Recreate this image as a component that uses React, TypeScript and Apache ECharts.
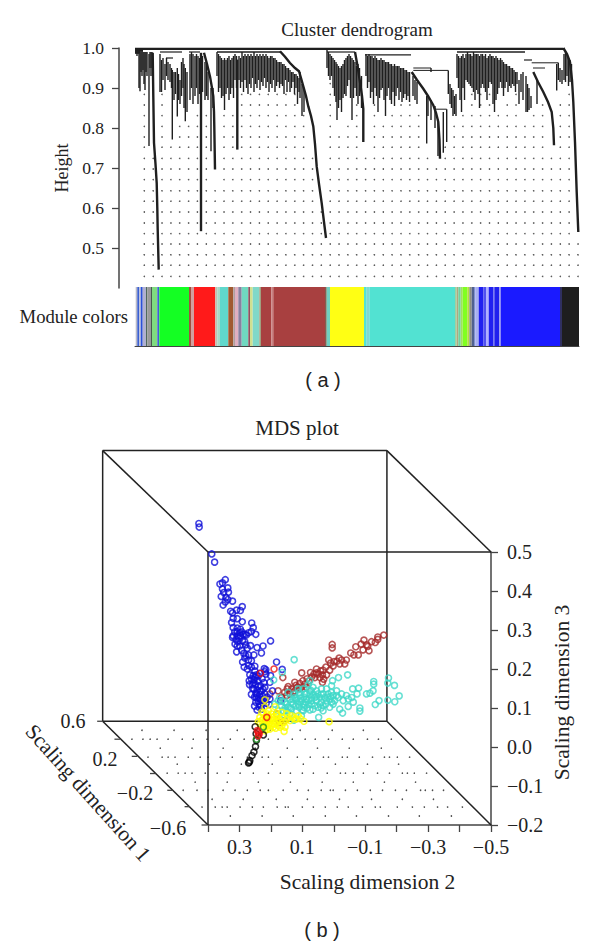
import React, { useEffect, useRef } from "react";
import * as echarts from "echarts";

// ---------- Panel (a): dendrogram ----------
const heightTicks = [0.5, 0.6, 0.7, 0.8, 0.9, 1.0];
// [leaf position, merge height, leaf height]
const stems: number[][] = [
  [1,.995,.985],[2,.995,.98],[3,.995,.985],[4,.99,.90],[5,.99,.892],[6,.99,.94],[7,.99,.93],[8,.99,.945],[9,.99,.91],[10,.99,.895],[11,.99,.94],[12,.99,.93],[14,.985,.755],[15,.99,.95],[16,.99,.93],[17,.99,.95],
  [25,.985,.89],[26.5,.97,.89],[28,.975,.92],[30,.96,.895],[31.5,.975,.93],[33,.965,.92],[35,.96,.915],[36.5,.95,.9],[37.3,.945,.771],[39,.94,.87],[40.5,.94,.885],[42.3,.95,.829],[43.5,.935,.87],[45,.92,.86],[46.5,.965,.88],[48,.975,.90],[49,.96,.85],[50.3,.95,.817],[52,.94,.84],
  [55,.985,.87],[56.5,.99,.90],[58,.985,.86],[60,.98,.88],[61.5,.985,.9],[63,.98,.86],[64.5,.975,.885],[67.5,.98,.89],[70,.965,.87],[71.5,.96,.88],[73,.94,.87],[76,.90,.742],[78,.9,.85],
  [82,.99,.93],[83.5,.985,.89],[85,.98,.90],[86.5,.975,.875],[88,.97,.88],[89.5,.975,.845],[91,.97,.885],[92.5,.975,.90],[94,.98,.87],[95.5,.97,.885],[97,.975,.90],[98.5,.98,.875],[100,.985,.92],[101.5,.98,.90],[104,.98,.92],[105.5,.975,.90],[107,.99,.915],[108.5,.98,.89],[110,.985,.92],[111.5,.98,.90],[113,.985,.885],[114.5,.98,.91],[116,.985,.90],[117.5,.98,.925],[119,.99,.89],[120.5,.98,.91],[122,.985,.90],[123.5,.98,.92],[125,.985,.895],[126.5,.98,.915],[128,.985,.905],[129.5,.98,.925],[131,.985,.90],[132.5,.98,.915],[134,.975,.89],[135.5,.98,.91],[137,.98,.90],[138.5,.975,.92],[140,.975,.89],[141.5,.97,.905],[143,.965,.915],[144.5,.965,.90],[146,.965,.91],[147.5,.96,.905],[149,.96,.885],[150.5,.955,.92],[152,.95,.89],[153.5,.95,.915],[155,.945,.89],[156.5,.94,.90],[158,.94,.915],[159.5,.935,.885],[161,.935,.90],[162.5,.93,.86],[164,.925,.89],[165,.94,.875],[167,.91,.83],[169,.90,.84],
  [192,.995,.95],[193.5,.99,.93],[195,.985,.92],[196.5,.98,.93],[198,.975,.90],[199.5,.97,.88],[201,.965,.865],[202,.96,.82],[203.5,.955,.85],[205,.95,.87],[206.5,.955,.84],[208,.96,.875],[209.5,.97,.885],[211,.975,.88],[212.5,.98,.905],[214,.985,.92],[215.5,.98,.875],[217,.975,.82],[218.5,.97,.875],[220,.965,.90],[221.5,.955,.88],[223,.96,.86],[224.5,.95,.88],[226.5,.93,.85],
  [231,.985,.93],[232.5,.98,.90],[234,.985,.915],[235.5,.98,.875],[237,.98,.89],[238.5,.975,.86],[240,.98,.90],[241.5,.975,.88],[243,.97,.84],[244.5,.97,.875],[246,.975,.895],[247.5,.97,.90],[249,.97,.87],[250.5,.965,.83],[252,.965,.88],[253.5,.965,.90],[255,.96,.87],[256.5,.96,.86],[258,.955,.89],[259.5,.96,.855],[261,.955,.88],[262.5,.955,.90],[264,.955,.87],[265.5,.95,.89],[267,.95,.865],[268.5,.95,.875],[270,.945,.885],[271.5,.945,.87],[273,.94,.88],[274.5,.94,.865],
  [278,.93,.88],[280,.92,.87],[282,.915,.86],[291.7,.88,.761],[293,.88,.83],[296,.95,.94],[296,.87,.82],[300,.855,.80],[303,.82,.73],[308.3,.84,.738],[311.7,.847,.765],
  [313.3,.944,.885],[315,.91,.86],[316.5,.90,.85],[318,.895,.83],[319.5,.88,.835],[321,.885,.83],
  [322,.985,.925],[323.5,.98,.90],[325,.975,.87],[326.5,.98,.84],[328,.985,.90],[329.5,.975,.87],[331,.985,.92],[332.5,.99,.915],[334,.985,.91],[335.5,.985,.905],[337,.98,.90],[338.5,.99,.89],[340,.985,.87],[341.5,.985,.895],[343,.985,.885],[344.5,.98,.85],[346,.985,.90],[347.5,.985,.91],[349,.98,.90],[350.5,.985,.89],[352,.975,.87],[353.5,.98,.90],[355,.985,.915],[356.5,.98,.91],[358,.98,.86],[359.5,.975,.84],[361,.98,.87],[362.5,.975,.885],[364,.97,.90],[365.5,.975,.915],[367,.97,.90],[368.5,.965,.88],[370,.96,.90],[371.5,.96,.915],[373,.955,.89],[374.5,.955,.905],[376,.95,.90],[377.5,.95,.91],[379,.945,.905],[380.5,.94,.89],[382,.94,.91],[384,.92,.86],[386,.935,.89],[388,.94,.87],[391,.93,.84],[392.5,.91,.84],[394,.90,.845],[396,.88,.85],
  [402,.92,.86],[421.7,.96,.894],[423.3,.963,.92],[425,.95,.915],[427,.945,.91],[429,.985,.92],[430.5,.99,.915],[432,.985,.93],[433.5,.975,.905],[435,.97,.915],[436.5,.96,.925],
];
// [from leaf, to leaf, height, weight]
const merges: number[][] = [
  [0,428,.998,2.2],[0,8,.994,3],[0,5,.99,3],[25,47,.99,1.2],[31,38,.975,1.2],[54,65,.99,1.2],[82,145,.99,1.6],[192,220,.99,1.2],[230,276,.983,1.2],[322,390,.99,1.6],[389,397,.97,1.2],
  [278.3,296,.95,1],[278.3,313.3,.944,1],[300,311.7,.847,1],[396.7,423.3,.963,1],[398,410,.95,1],
];
// long cascading branches, [leaf position, height]
const cascades: number[][][] = [
  [[17.7,.988],[18.3,.88],[19,.763],[20.5,.71],[21.7,.6625],[22.3,.60],[22.7,.546],[23.7,.446]],
  [[66,.988],[66,.542]],
  [[69,.988],[72,.96],[75,.929],[77,.90],[78.3,.879],[79,.84],[79.3,.804],[80,.696]],
  [[102.3,.971],[102.3,.746]],
  [[145,.992],[150,.978],[155,.9625],[160,.95],[164,.942],[166,.925],[168.3,.904],[171,.88],[173.3,.854],[176,.83],[178.3,.804],[180,.76],[181.7,.704],[184,.66],[186.7,.612],[189,.565],[191,.525]],
  [[220,.99],[222.5,.955],[225,.915],[227,.88],[228.3,.848],[228.3,.765]],
  [[276.7,.94],[282,.92],[288.3,.898],[293,.88],[298.3,.857],[301,.838],[303.3,.815],[304.5,.77],[305,.723]],
  [[398.3,.94],[403,.915],[408.3,.89],[413,.865],[416.7,.84],[418.3,.80],[419,.757]],
  [[428.3,1],[432,.985],[435,.965],[437,.92],[438.3,.865],[440,.765],[441.7,.64],[443.3,.54]],
];
const dotColumns = [9.3,18.2,27,35.9,44.7,53.6,62.4,71.3,80.1,89,97.8,106.7,115.5,124.4,133.2,142.1,150.9,159.8,168.6,177.5,186.3,195.2,204,212.9,221.7,230.6,239.4,248.3,257.1,266,274.8,283.7,292.5,301.4,310.2,319.1,327.9,336.8,345.6,354.5,363.3,372.2,381,389.9,398.7,407.6,416.4,425.3,434.1,443];
const dotColumnTops = [.884,.724,.884,.752,.804,.804,.831,.857,.643,.831,.857,.884,.896,.896,.884,.896,.896,.884,.846,.73,.59,.92,.80,.81,.871,.75,.88,.83,.85,.86,.858,.85,.75,.70,.76,.82,.845,.896,.885,.885,.845,.87,.885,.83,.84,.88,.745,.88,.90,.52];
const dotRows = [.429,.457,.483,.51,.536,.5625,.59,.617,.643,.671,.6975,.724,.752,.7775,.804,.831,.8575,.884,.911];

const moduleEdges = [.7,2.3,4,5.7,7.7,11,12.3,15.7,17,22.3,24.3,54,56,59,80.3,82.3,85,93.3,98.3,100,103.3,106.7,113.3,115,117.7,124.3,126,136.3,138.3,190,191.7,195,229,231.7,234.3,320,321.7,323.3,325.7,327.7,332.3,334.3,336.7,339,340.3,343.7,348.3,351,353.7,358.3,360,364,365.7,425,427,444];
const moduleColors = ["#b8b8c8","#3a5fd0","#c0c4dc","#2a50d8","#b0b0d0","#4f6a5c","#9a9a9a","#4a5a50","#7fdc7f","#4060d0","#14ff23","#a05040","#d0a0a0","#ff1a1a","#c0c0b0","#a8d8c8","#60d8cc","#a05a30","#b0a0a0","#e0b0c0","#8880a0","#70d8c0","#905060","#d0e090","#80d8c8","#a0a080","#a84040","#c98080","#a84040","#806050","#70d0c0","#ffff14","#52e2d2","#80d8d0","#52e2d2","#a0d0a0","#b0a880","#70d0a0","#a0e060","#80ff20","#b0e040","#909080","#506090","#8090d0","#a8b0f0","#2020f0","#5050f0","#b0b0ff","#2020f0","#6060f0","#2020ee","#a0a0f0","#1a1aff","#303060","#1e1e1e"];

// ---------- Panel (b): MDS plot, [apparent dimension 2, dimension 3] ----------
const bluePoints = [[.429,.573],[.428,.564],[.388,.495],[.379,.474],[.345,.429],[.362,.418],[.354,.421],[.337,.408],[.354,.405],[.350,.396],[.335,.397],[.358,.386],[.343,.383],[.337,.378],[.322,.374],[.345,.372],[.352,.364],[.328,.348],[.309,.351],[.291,.360],[.297,.350],[.322,.344],[.320,.330],[.307,.329],[.325,.319],[.291,.321],[.261,.318],[.320,.306],[.307,.305],[.297,.302],[.256,.306],[.262,.296],[.248,.289],[.271,.293],[.282,.289],[.278,.287],[.320,.285],[.307,.285],[.297,.285],[.288,.289],[.299,.293],[.307,.296],[.322,.281],[.311,.276],[.301,.279],[.314,.264],[.307,.259],[.283,.270],[.265,.260],[.299,.259],[.275,.253],[.244,.255],[.225,.259],[.201,.272],[.230,.241],[.293,.248],[.309,.244],[.286,.240],[.280,.234],[.271,.236],[.254,.236],[.283,.228],[.290,.218],[.271,.223],[.262,.221],[.271,.209],[.251,.207],[.221,.201],[.216,.198],[.219,.193],[.182,.218],[.164,.199],[.235,.189],[.251,.195],[.246,.185],[.267,.185],[.256,.183],[.216,.187],[.201,.183],[.269,.170],[.254,.172],[.241,.170],[.203,.166],[.259,.160],[.248,.160],[.233,.157],[.219,.153],[.254,.149],[.244,.146],[.230,.144],[.195,.144],[.248,.138],[.235,.134],[.219,.136],[.246,.126],[.233,.123],[.219,.120],[.203,.123],[.248,.115],[.235,.110],[.244,.095],[.169,.119],[.230,.097],[.206,.109],
  [.262,.175],[.250,.178],[.240,.182],[.228,.175],[.258,.150],[.240,.155],[.225,.148],[.262,.135],[.252,.128],[.240,.118],[.226,.130],[.212,.128],[.252,.105],[.238,.102],[.226,.113],[.215,.112],[.235,.143],[.245,.135],[.228,.120],[.222,.165],[.255,.165],[.268,.160],[.275,.200],[.285,.205],[.262,.205],[.280,.262],[.290,.272],[.315,.295],[.305,.270],[.292,.295],[.240,.125],[.232,.105]];
const brownPoints = [[-.159,.287],[-.140,.282],[-.140,.276],[-.120,.270],[-.132,.268],[-.096,.274],[-.087,.264],[-.104,.262],[-.070,.257],[-.108,.258],[-.093,.249],[-.112,.247],[-.054,.241],[-.064,.236],[-.078,.236],[.005,.263],[.005,.254],[.016,.223],[-.017,.228],[-.025,.223],[-.040,.223],[-.001,.219],[-.035,.213],[-.019,.213],[.002,.208],[.055,.200],[.034,.197],[.013,.197],[.074,.191],[.063,.187],[.050,.187],[.036,.185],[.023,.185],[.102,.190],[.060,.178],[.044,.178],[.032,.174],[.036,.166],[.078,.170],[.092,.161],[.108,.163],[.124,.166],[.116,.153],[.103,.153],[.087,.153],[.134,.149],[.124,.144],[.148,.149],[.162,.178],[.156,.140],[.140,.136],[.177,.144],[.166,.127],[.150,.132],[.203,.136],[.156,.068],[.172,.063],[.182,.085],
  [.120,.158],[.098,.170],[.085,.175],[.070,.180],[.055,.190],[.042,.195],[.025,.205],[.010,.215],[-.010,.220],[.130,.140],[.145,.155],[.110,.150]];
const turquoisePoints = [[.126,.224],[.164,.191],[.191,.172],[-.044,.185],[-.015,.178],[.004,.170],[-.174,.177],[-.172,.164],[-.193,.158],[-.127,.168],[-.127,.161],[-.079,.151],[-.060,.149],[-.125,.144],[-.115,.138],[-.104,.136],[-.074,.136],[-.208,.131],[-.172,.120],[-.194,.116],[-.144,.119],[-.132,.109],[-.057,.127],[-.040,.132],[-.025,.136],[-.009,.144],[.007,.157],[.023,.149],[.039,.149],[.050,.136],[.034,.136],[.018,.136],[.002,.132],[-.014,.127],[-.030,.119],[-.046,.104],[-.062,.115],[-.083,.100],[-.083,.092],[-.019,.097],[-.028,.087],[.007,.115],[.034,.093],[.048,.076],[.076,.170],[.081,.161],[.097,.149],[.113,.149],[.076,.144],[.066,.153],[.092,.136],[.108,.132],[.124,.127],[.140,.123],[.156,.115],[.166,.106],[.177,.093],[.172,.127],[.145,.140],[.087,.123],[.071,.127],[.055,.119],[.039,.115],[.023,.119],[.081,.110],[.097,.110],[.113,.110],[.129,.110],[.145,.102],[.161,.093],[.060,.106],[.076,.095],[.097,.093],[.119,.093],[.140,.085],[.156,.080],[.044,.127],[.029,.127],[.013,.123],[-.003,.119],[.071,.119],[.060,.127],[.055,.144],[.103,.119],[.119,.119],[.135,.097],[.150,.092],[.095,.102],[.110,.102],[.087,.136],[.177,.119],[.188,.110],[.103,.080],[.127,.069],[.002,.110],[.013,.102],[.034,.106],[.050,.102],[.066,.097],[-.009,.132],[.007,.140],[-.046,.123],[.044,.110],[.076,.136],
  [.150,.110],[.135,.115],[.120,.105],[.105,.125],[.090,.115],[.070,.110],[.055,.130],[.040,.135],[.025,.110],[.010,.130],[.125,.135],[.110,.140],[.095,.128],[.080,.120],[.065,.135],[.140,.100],[.155,.100],[.165,.118],[.100,.095],[.085,.100],[.072,.145],[.040,.100],[.020,.128],[.108,.115],[.118,.125],[.130,.122],[.092,.108]];
const yellowPoints = [[.015,.065],[.095,.066],[.158,.040],[.219,.121],[.219,.103],[.187,.103],[.235,.076],[.224,.085],[.219,.076],[.208,.080],[.198,.085],[.182,.085],[.166,.076],[.150,.085],[.134,.080],[.113,.080],[.118,.072],[.229,.068],[.219,.063],[.208,.068],[.192,.068],[.176,.072],[.160,.063],[.139,.068],[.123,.072],[.224,.055],[.208,.055],[.192,.051],[.176,.055],[.219,.042],[.203,.046],[.235,.059],[.187,.059],[.171,.051],[.214,.072],[.145,.076],[.155,.051],[.198,.076],[.166,.089],[.208,.093],[.229,.089],
  [.225,.072],[.215,.060],[.205,.062],[.195,.060],[.182,.065],[.170,.068],[.200,.070],[.190,.078],[.178,.080],[.212,.085],[.225,.048],[.212,.045],[.198,.055],[.165,.055],[.150,.070],[.130,.075],[.105,.072],[.240,.065],[.215,.052],[.185,.048]];
const blackPoints = [[.271,-.041],[.269,-.039],[.267,-.035],[.260,-.022],[.254,-.013],[.249,.001],[.246,.017],[.250,.052],[.224,.031],[.247,.034]];
const redPoints = [[.240,.038],[.243,.042],[.237,.034],[.240,.029],[.233,.189],[.190,.200],[.213,.076]];
const greenPoints = [[.224,.051],[.246,.020]];

const floorRowHeights = [.043,.020,-.003,-.026,-.044,-.067,-.090,-.111,-.134,-.154,-.177];
const floorRows = [
  [.610,.508,.406,.307,.202,.107,.005,-.094],
  [.642,.607,.584,.562,.527,.482,.447,.403,.368,.329,.285,.244,.208,.177,.132,.091,.059,.017,-.027,-.062,-.107,-.142,-.183],
  [.552,.451,.352,.250,.148,.052,-.049,-.151],
  [.591,.546,.527,.505,.463,.425,.400,.361,.323,.275,.228,.208,.170,.116,.075,.033,.017,-.027,-.043,-.081,-.123,-.161,-.177,-.202,-.241],
  [.498,.396,.294,.196,.097,-.005,-.107,-.206],
  [.530,.495,.473,.451,.409,.371,.336,.298,.256,.208,.170,.138,.100,.065,.021,-.021,-.037,-.062,-.094,-.139,-.177,-.218,-.234,-.256,-.295],
  [.441,.339,.240,.138,.037,-.062,-.161,-.260],
  [.479,.435,.400,.352,.314,.275,.234,.208,.161,.116,.081,.040,.011,.002,-.037,-.075,-.116,-.155,-.196,-.231,-.276,-.291,-.314,-.349],
  [.387,.288,.183,.084,-.018,-.120,-.218,-.317],
  [.419,.377,.355,.339,.298,.259,.224,.180,.154,.145,.100,.065,.027,-.011,-.046,-.091,-.132,-.148,-.202,-.250,-.288,-.330,-.362,-.409],
  [.329,.228,.129,.027,-.072,-.174,-.272,-.374],
];
// box edges of the 3D frame, [dim2, dim3, dim2, dim3]
const frameEdges = [
  [.735,.76,-.169,.76],[-.169,.76,-.169,.066],[.735,.76,.735,.066],[.735,.066,-.169,.066],
  [.735,.76,.4,.5],[-.169,.76,-.5,.5],[-.169,.066,-.5,-.2],[.735,.066,.4,-.2],
  [.4,.5,-.5,.5],[.4,.5,.4,-.2],
];
const dim1Ticks = [[.735,.066],[.68,.02],[.625,-.024],[.567,-.068],[.512,-.111],[.457,-.153],[.403,-.2]];
const dim1Labels = ["0.6", "0.2", "\u22120.2", "\u22120.6"];

const SERIF = '"Liberation Serif", serif';
const SANS = '"Liberation Sans", sans-serif';
const INK = "#1f1f1f";
const AXIS = "#444444";

function minus(v: number) {
  const r = Math.round(v * 10) / 10;
  return (r < 0 ? "\u2212" : "") + Math.abs(r).toFixed(1);
}

export default function App() {
  const ref = useRef<HTMLDivElement>(null);
  useEffect(() => {
    const chart = echarts.init(ref.current!, undefined, { renderer: "svg" });

    const dendroDots: number[][] = [];
    dotColumns.forEach((x, i) => {
      dotRows.forEach((h) => {
        if (h <= dotColumnTops[i]) dendroDots.push([x, h]);
      });
    });
    const floorDots: number[][] = [];
    floorRows.forEach((xs, i) => xs.forEach((x) => floorDots.push([x, floorRowHeights[i]])));

    const hollow = (data: number[][], color: string, size = 6) => ({
      type: "scatter",
      xAxisIndex: 2,
      yAxisIndex: 2,
      data,
      clip: false,
      symbol: "circle",
      symbolSize: size,
      silent: true,
      itemStyle: { color: "rgba(0,0,0,0)", borderColor: color, borderWidth: 1.6 },
    });

    const label = (text: string, x: number, y: number, size = 20, fam = SERIF) => ({
      type: "text", x, y,
      style: { text, font: `${size}px ${fam}`, fill: "#222", align: "center", verticalAlign: "middle" },
    });

    chart.setOption({
      animation: false,
      backgroundColor: "#ffffff",
      title: [
        { text: "Cluster dendrogram", left: 352, top: 15, textAlign: "center", textStyle: { fontFamily: SERIF, fontSize: 19, fontWeight: "normal", color: "#222" } },
        { text: "MDS plot", left: 292, top: 412, textAlign: "center", textStyle: { fontFamily: SERIF, fontSize: 21, fontWeight: "normal", color: "#222" } },
      ],
      grid: [
        { left: 135, top: 48, width: 444, height: 240 },
        { left: 135, top: 287, width: 444, height: 59 },
        { left: 208, top: 552, width: 283, height: 273 },
      ],
      xAxis: [
        { gridIndex: 0, type: "value", min: 0, max: 444, show: false },
        {
          gridIndex: 1, type: "value", min: 0, max: 444, position: "top",
          axisLine: { lineStyle: { color: AXIS, width: 1 } }, axisTick: { show: false }, axisLabel: { show: false }, splitLine: { show: false },
        },
        {
          gridIndex: 2, type: "value", min: -0.5, max: 0.4, interval: 0.1, inverse: true, position: "bottom",
          name: "Scaling dimension 2", nameLocation: "middle", nameGap: 46,
          nameTextStyle: { fontFamily: SERIF, fontSize: 21.5, color: "#222", padding: [0, 0, 0, 36] },
          axisLine: { onZero: false, lineStyle: { color: AXIS, width: 1.5 } },
          axisTick: { length: 7, lineStyle: { color: AXIS, width: 1.3 } },
          splitLine: { show: false },
          axisLabel: { customValues: [0.3, 0.1, -0.1, -0.3, -0.5], formatter: minus, margin: 12, fontFamily: SERIF, fontSize: 20, color: "#222", hideOverlap: false },
        },
      ],
      yAxis: [
        {
          gridIndex: 0, type: "value", min: 0.4, max: 1, interval: 0.1, offset: 16,
          name: "Height", nameLocation: "middle", nameGap: 40, nameRotate: 90,
          nameTextStyle: { fontFamily: SERIF, fontSize: 18, color: "#222" },
          axisLine: { show: true, onZero: false, lineStyle: { color: AXIS, width: 1.5 } },
          axisTick: { show: true, customValues: heightTicks, length: 7, lineStyle: { color: AXIS, width: 1.3 } },
          splitLine: { show: false },
          axisLabel: { customValues: heightTicks, formatter: minus, margin: 15, fontFamily: SERIF, fontSize: 17.5, color: "#222" },
        },
        {
          gridIndex: 1, type: "value", min: 0, max: 1,
          name: "Module colors", nameLocation: "middle", nameGap: 7, nameRotate: 0,
          nameTextStyle: { fontFamily: SERIF, fontSize: 18.7, color: "#222", padding: [0, 0, 12, 0] },
          axisLine: { show: false }, axisTick: { show: false }, axisLabel: { show: false }, splitLine: { show: false },
        },
        {
          gridIndex: 2, type: "value", min: -0.2, max: 0.5, interval: 0.1, position: "right",
          name: "Scaling dimension 3", nameLocation: "middle", nameGap: 60, nameRotate: 90,
          nameTextStyle: { fontFamily: SERIF, fontSize: 21.5, color: "#222", padding: [0, 8, 0, 0] },
          axisLine: { show: true, onZero: false, lineStyle: { color: AXIS, width: 1.5 } },
          axisTick: { show: true, length: 7, lineStyle: { color: AXIS, width: 1.3 } },
          splitLine: { show: false },
          axisLabel: { formatter: minus, margin: 16, fontFamily: SERIF, fontSize: 20, color: "#222" },
        },
      ],
      series: [
        {
          type: "scatter", xAxisIndex: 0, yAxisIndex: 0, data: dendroDots, symbol: "circle", symbolSize: 1.6, silent: true,
          itemStyle: { color: "#333" },
        },
        {
          type: "custom", xAxisIndex: 0, yAxisIndex: 0, silent: true, data: stems,
          encode: { x: 0, y: 1 },
          renderItem: (_: any, api: any) => {
            const a = api.coord([api.value(0), api.value(1)]);
            const b = api.coord([api.value(0), api.value(2)]);
            return { type: "line", shape: { x1: a[0], y1: a[1], x2: b[0], y2: b[1] }, style: { stroke: INK, lineWidth: 1.4 } };
          },
        },
        {
          type: "custom", xAxisIndex: 0, yAxisIndex: 0, silent: true, data: merges,
          encode: { x: 0, y: 2 },
          renderItem: (_: any, api: any) => {
            const a = api.coord([api.value(0), api.value(2)]);
            const b = api.coord([api.value(1), api.value(2)]);
            return { type: "line", shape: { x1: a[0], y1: a[1], x2: b[0], y2: b[1] }, style: { stroke: INK, lineWidth: api.value(3) } };
          },
        },
        {
          type: "custom", xAxisIndex: 0, yAxisIndex: 0, silent: true,
          data: cascades.map((_, i) => [i, 1]),
          encode: { x: 0, y: 1 },
          renderItem: (_: any, api: any) => ({
            type: "polyline",
            shape: { points: cascades[api.value(0)].map((p) => api.coord(p)) },
            style: { stroke: INK, lineWidth: 2.4, fill: "none" },
          }),
        },
        {
          type: "custom", xAxisIndex: 1, yAxisIndex: 1, silent: true,
          data: moduleColors.map((_, i) => [moduleEdges[i], moduleEdges[i + 1], i]),
          encode: { x: 0 },
          renderItem: (_: any, api: any) => {
            const a = api.coord([api.value(0), 1]);
            const b = api.coord([api.value(1), 0]);
            return { type: "rect", shape: { x: a[0], y: a[1], width: b[0] - a[0], height: b[1] - a[1] }, style: { fill: moduleColors[api.value(2)] } };
          },
        },
        {
          type: "scatter", xAxisIndex: 2, yAxisIndex: 2, data: floorDots, symbol: "circle", symbolSize: 1.6, silent: true, clip: false,
          itemStyle: { color: "#222" },
        },
        {
          type: "custom", xAxisIndex: 2, yAxisIndex: 2, silent: true, data: frameEdges, clip: false,
          encode: { x: 0, y: 1 },
          renderItem: (_: any, api: any) => {
            const a = api.coord([api.value(0), api.value(1)]);
            const b = api.coord([api.value(2), api.value(3)]);
            return { type: "line", shape: { x1: a[0], y1: a[1], x2: b[0], y2: b[1] }, style: { stroke: "#222", lineWidth: 1.5 } };
          },
        },
        {
          type: "custom", xAxisIndex: 2, yAxisIndex: 2, silent: true, data: dim1Ticks, clip: false,
          encode: { x: 0, y: 1 },
          renderItem: (_: any, api: any) => {
            const a = api.coord([api.value(0), api.value(1)]);
            return { type: "line", shape: { x1: a[0] - 5.5, y1: a[1], x2: a[0], y2: a[1] }, style: { stroke: AXIS, lineWidth: 1.3 } };
          },
        },
        hollow(brownPoints, "#a52a2a"),
        hollow(bluePoints, "#1010d8"),
        hollow(turquoisePoints, "#40d8c8"),
        hollow(yellowPoints, "#ffff00"),
        hollow(blackPoints, "#000000"),
        hollow(greenPoints, "#1e8b22"),
        hollow(redPoints, "#ee1111"),
      ],
      graphic: [
        label("( a )", 323, 380, 20, SANS),
        label("( b )", 322, 930, 20, SANS),
        label(dim1Labels[0], 73, 721),
        label(dim1Labels[1], 105, 759),
        label(dim1Labels[2], 135, 793),
        label(dim1Labels[3], 168, 828),
        { ...label("Scaling dimension 1", 88, 793, 21.5), rotation: -0.84 },
      ],
    });
    return () => chart.dispose();
  }, []);
  return <div ref={ref} style={{ position: "fixed", left: 0, top: 0, width: 600, height: 945 }} />;
}
